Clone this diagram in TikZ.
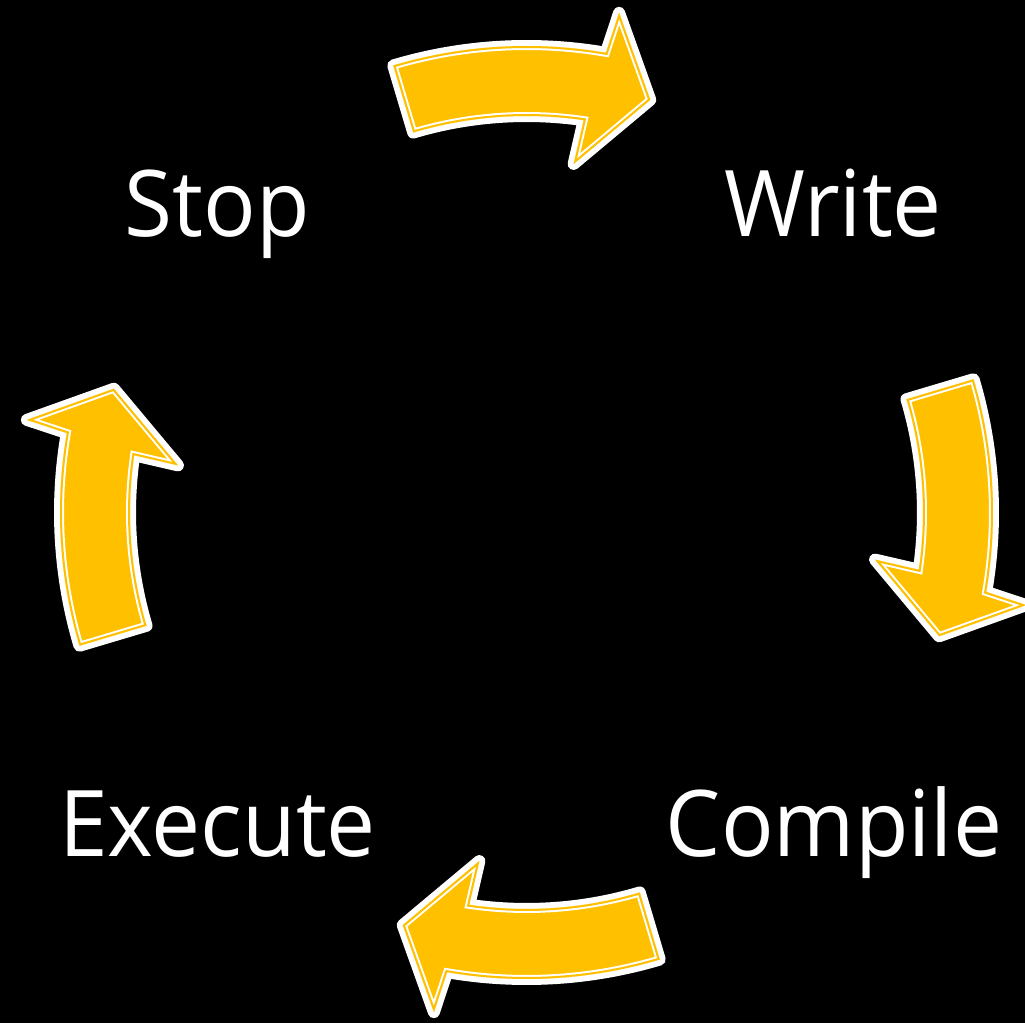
\documentclass[tikz,border=0pt]{standalone}
\usepackage{fontspec}
\setmainfont[FakeStretch=0.95]{Open Sans}
\definecolor{arrowgold}{HTML}{FFC000}
\newcommand\arrowpath{(106.6:466.5) arc[start angle=106.6, end angle=80.2, radius=466.5] -- (79.5:508.2) -- (73.3:430.8) -- (82.3:351.7) -- (81.7:396.5) arc[start angle=81.7, end angle=106.6, radius=396.5] -- cycle}
\newcommand\cyclearrow[1]{%
  \begin{scope}[shift={(C)}, rotate=#1]
    \draw[white, line width=12pt, line join=round] \arrowpath;
    \fill[arrowgold] \arrowpath;
    \begin{scope}
      \clip \arrowpath;
      \draw[white, line width=8pt] \arrowpath;
      \draw[arrowgold, line width=4pt] \arrowpath;
    \end{scope}
  \end{scope}}
\begin{document}
\begin{tikzpicture}[x=1pt,y=1pt,
  lbl/.style={text=white, inner sep=0pt, anchor=base, font=\fontsize{92}{110}\selectfont}]
  \useasboundingbox (0,0) rectangle (1025,1023);
  \fill[black] (0,0) rectangle (1025,1023);
  \coordinate (C) at (526.5,510.5);
  \cyclearrow{0}
  \cyclearrow{-90}
  \cyclearrow{180}
  \cyclearrow{90}
  \node[lbl] (stop) at (217,786) {Stop};
  \node[lbl] (write) at (833,786) {Write};
  \node[lbl] (compile) at (834,167) {Compile};
  \node[lbl] (execute) at (217.5,167) {Execute};
\end{tikzpicture}
\end{document}
